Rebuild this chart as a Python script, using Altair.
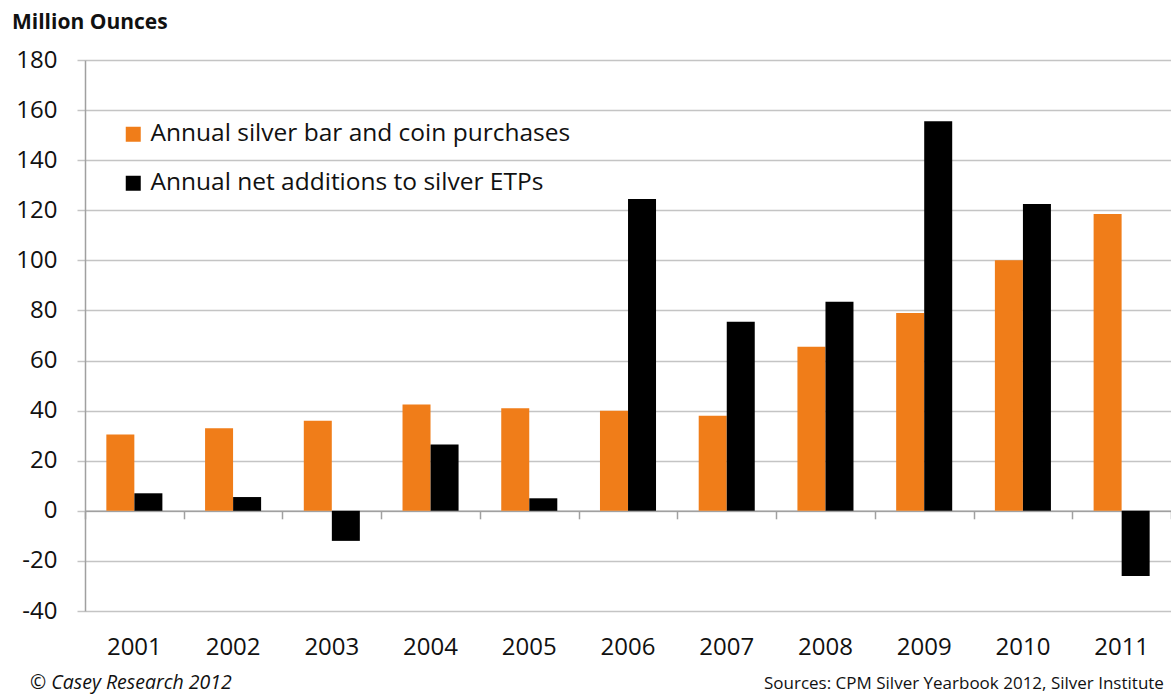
import altair as alt
import pandas as pd

years = ["2001", "2002", "2003", "2004", "2005", "2006", "2007", "2008", "2009", "2010", "2011"]
bar_coin = [30.5, 33, 36, 42.5, 41, 40, 38, 65.5, 79, 100, 118.5]
etp = [7, 5.5, -12, 26.5, 5, 124.5, 75.5, 83.5, 155.5, 122.5, -26]
series = ["Annual silver bar and coin purchases", "Annual net additions to silver ETPs"]
colors = ["#F07D19", "#000000"]
y_ticks = list(range(-40, 181, 20))

rows = []
for i, yr in enumerate(years):
    rows.append({"year": yr, "series": series[0], "value": bar_coin[i]})
    rows.append({"year": yr, "series": series[1], "value": etp[i]})
df = pd.DataFrame(rows)

FONT = "Open Sans"
W, H = 1086, 551
GRID = "#c4c4c4"
AXIS = "#a0a0a0"

xscale = alt.Scale(domain=years, paddingInner=0, paddingOuter=0)
yscale = alt.Scale(domain=[-40, 180], nice=False, zero=False)

bars = alt.Chart(df).mark_bar(size=28).encode(
    x=alt.X("year:N", scale=xscale, sort=years,
            axis=alt.Axis(title=None, orient="bottom", labelAngle=0, domain=False, ticks=False,
                          labelFontSize=24, labelFont=FONT, labelColor="#111111",
                          labelPadding=24, grid=False)),
    xOffset=alt.XOffset("series:N", sort=series,
                        scale=alt.Scale(domain=series, paddingOuter=0.76, paddingInner=0)),
    y=alt.Y("value:Q", scale=yscale,
            axis=alt.Axis(title=None, values=y_ticks, grid=True, gridColor=GRID, gridWidth=1.5,
                          domain=True, domainColor=AXIS, domainWidth=1.5,
                          ticks=True, tickSize=8, tickColor=GRID, tickWidth=1.5,
                          labelFontSize=24, labelFont=FONT, labelColor="#111111",
                          labelExpr="'' + datum.value",
                          labelPadding=20)),
    color=alt.Color("series:N", sort=series,
                    scale=alt.Scale(domain=series, range=colors),
                    legend=alt.Legend(title=None, orient="none", legendX=36, legendY=62,
                                      symbolType="square", symbolSize=225,
                                      symbolStrokeWidth=0, labelFontSize=24.5,
                                      labelFont=FONT, labelColor="#111111", labelLimit=0,
                                      labelOffset=5, rowPadding=24, padding=0)),
)

zero_axis = alt.Chart(df).mark_point(opacity=0).encode(
    x=alt.X("year:N", scale=xscale, sort=years,
            axis=alt.Axis(title=None, orient="bottom", labels=False, domain=True, domainColor=AXIS,
                          domainWidth=1.5, ticks=True, tickBand="extent", tickSize=8,
                          tickColor=AXIS, tickWidth=1.5, offset=-100.2, grid=False)),
    y=alt.Y("value:Q", scale=yscale),
)

title = alt.Chart(pd.DataFrame({"t": ["Million Ounces"]})).mark_text(
    align="left", baseline="alphabetic", font=FONT, fontSize=21, fontWeight="bold", color="#111111"
).encode(text="t:N", x=alt.value(12 - 85), y=alt.value(29 - 60))

credit = alt.Chart(pd.DataFrame({"t": ["© Casey Research 2012"]})).mark_text(
    align="left", baseline="alphabetic", font=FONT, fontSize=19.5, fontStyle="italic", color="#111111"
).encode(text="t:N", x=alt.value(30 - 85), y=alt.value(689 - 60))

sources = alt.Chart(pd.DataFrame({"t": ["Sources: CPM Silver Yearbook 2012, Silver Institute"]})).mark_text(
    align="left", baseline="alphabetic", font=FONT, fontSize=17, color="#111111"
).encode(text="t:N", x=alt.value(764 - 85), y=alt.value(689 - 60))

chart = alt.layer(bars, zero_axis, title, credit, sources).resolve_axis(
    x="independent"
).properties(
    width=W, height=H,
    autosize=alt.AutoSizeParams(type="none"),
    padding={"left": 85, "top": 60, "right": 0, "bottom": 85},
).configure_view(stroke=None)

chart.save("out.html", embed_options={"renderer": "svg", "actions": False})
